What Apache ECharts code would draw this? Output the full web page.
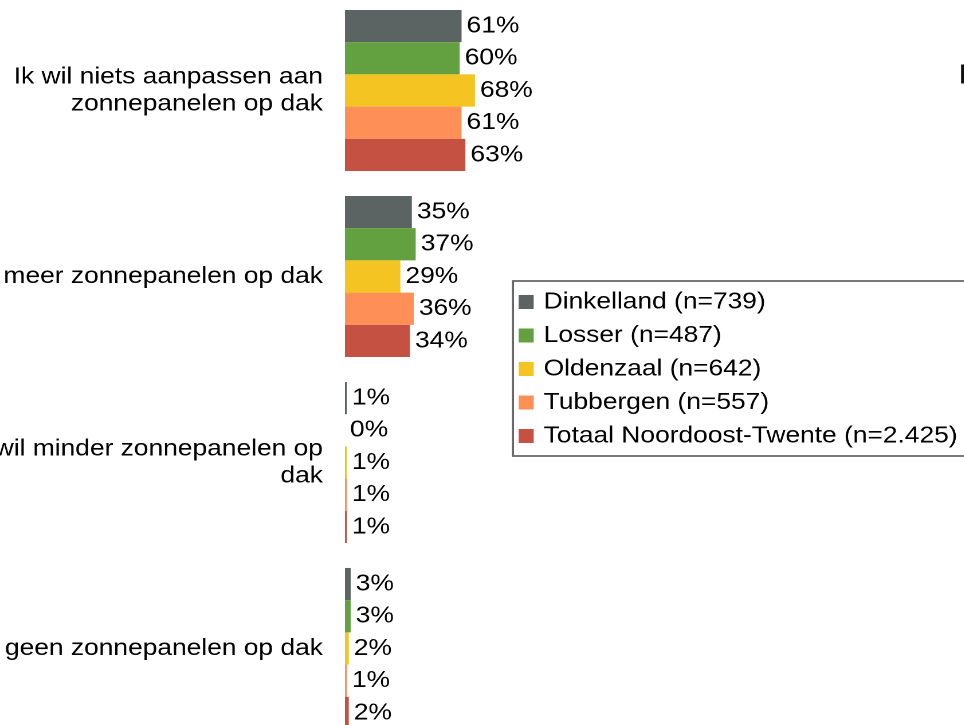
<!DOCTYPE html>
<html>
<head>
<meta charset="utf-8">
<script src="https://cdn.jsdelivr.net/npm/echarts@6/dist/echarts.min.js"></script>
<style>
html,body{margin:0;padding:0;background:#fff;overflow:hidden;width:964px;height:725px;}
#chart{position:absolute;left:0;top:-10px;width:842px;height:760px;transform:scaleX(1.146);transform-origin:0 0;}
</style>
</head>
<body>
<div id="chart"></div>
<script>
const categories = [
  "Ik wil niets aanpassen aan\nzonnepanelen op dak",
  "Ik wil meer zonnepanelen op dak",
  "Ik wil minder zonnepanelen op\ndak",
  "Ik wil geen zonnepanelen op dak"
];
const seriesNames = [
  "Dinkelland (n=739)",
  "Losser (n=487)",
  "Oldenzaal (n=642)",
  "Tubbergen (n=557)",
  "Totaal Noordoost-Twente (n=2.425)"
];
const dinkelland = [61, 35, 1, 3];
const losser = [60, 37, 0, 3];
const oldenzaal = [68, 29, 1, 2];
const tubbergen = [61, 36, 1, 1];
const totaal = [63, 34, 1, 2];
const colors = ["#5b6462", "#62a040", "#f4c423", "#fe8f56", "#c55143"];

const FONT = "'Liberation Sans', Arial, sans-serif";
const allData = [dinkelland, losser, oldenzaal, tubbergen, totaal];

const chart = echarts.init(document.getElementById('chart'), null, {renderer: 'canvas', devicePixelRatio: 2});
chart.setOption({
  animation: false,
  backgroundColor: '#ffffff',
  textStyle: {fontFamily: FONT},
  grid: {left: 301, top: 7.5, width: 166.8, height: 744, containLabel: false, outerBoundsMode: 'none'},
  xAxis: {
    type: 'value', min: 0, max: 100, show: false
  },
  yAxis: {
    type: 'category', data: categories, inverse: true,
    axisLine: {show: false}, axisTick: {show: false}, splitLine: {show: false},
    axisLabel: {
      interval: 0, margin: 19.2, fontSize: 23, lineHeight: 27, color: '#000',
      fontFamily: FONT, align: 'right'
    }
  },
  legend: {
    orient: 'vertical', left: 447.6, top: 291,
    data: seriesNames,
    icon: 'rect', itemWidth: 13.1, itemHeight: 14, itemGap: 9.5,
    padding: [9, 30, 8, 5],
    borderColor: '#666', borderWidth: 1.8,
    textStyle: {fontSize: 23, color: '#000', fontFamily: FONT, lineHeight: 24, padding: [0, 0, 0, 3.7]}
  },
  graphic: [{
    type: 'text', left: 836, top: 72,
    style: {text: 'I', fontSize: 28, fill: '#111', fontFamily: FONT}
  }],
  series: seriesNames.map((name, i) => ({
    name: name, type: 'bar', data: allData[i],
    barGap: '0%', barCategoryGap: '13.4%',
    itemStyle: {color: colors[i]},
    label: {
      show: true, position: 'right', distance: 4.4,
      formatter: '{c}%', fontSize: 23, color: '#000', fontFamily: FONT
    }
  }))
});
</script>
</body>
</html>
